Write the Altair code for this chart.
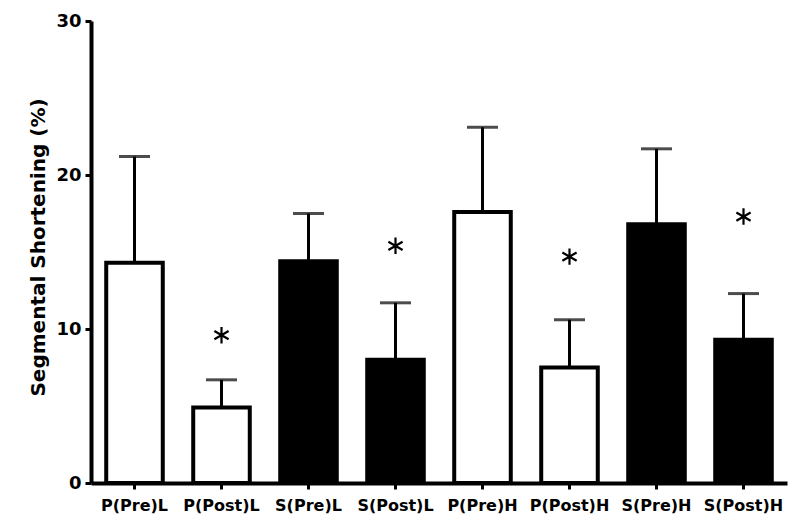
import altair as alt
import pandas as pd

groups = ["P(Pre)L", "P(Post)L", "S(Pre)L", "S(Post)L", "P(Pre)H", "P(Post)H", "S(Pre)H", "S(Post)H"]
means = [14.3, 4.9, 14.4, 8.0, 17.6, 7.5, 16.8, 9.3]
upper = [21.2, 6.7, 17.5, 11.7, 23.1, 10.6, 21.7, 12.3]
fills = ["white", "white", "black", "black", "white", "white", "black", "black"]
star_groups = ["P(Post)L", "S(Post)L", "P(Post)H", "S(Post)H"]
star_y = [9.6, 15.4, 14.7, 17.3]

df = pd.DataFrame({"group": groups, "mean": means, "upper": upper, "fill": fills})
stars = pd.DataFrame({"group": star_groups, "y": star_y})

FONT = "DejaVu Sans"

x_enc = alt.X(
    "group:N",
    sort=groups,
    scale=alt.Scale(paddingInner=0.35, paddingOuter=0.175),
    axis=alt.Axis(
        title=None,
        labelAngle=0,
        labelFont=FONT,
        labelFontWeight="bold",
        labelFontSize=16,
        labelColor="black",
        labelPadding=8,
        tickSize=6,
        tickWidth=3,
        tickColor="black",
        domainColor="black",
        domainWidth=4,
    ),
)

y_scale = alt.Scale(domain=[0, 30], nice=False)
y_axis = alt.Axis(
    title="Segmental Shortening (%)",
    values=[0, 10, 20, 30],
    grid=False,
    labelFont=FONT,
    labelFontWeight="bold",
    labelFontSize=18,
    labelColor="black",
    labelPadding=4,
    tickSize=6,
    tickWidth=3,
    tickColor="black",
    domainColor="black",
    domainWidth=4,
    titleFont=FONT,
    titleFontWeight="bold",
    titleFontSize=20,
    titleColor="black",
    titleX=-43,
    titleY=226,
)

base = alt.Chart(df)

err = base.mark_rule(color="black", strokeWidth=3).encode(
    x=x_enc,
    y=alt.Y("mean:Q", scale=y_scale, axis=y_axis),
    y2="upper:Q",
)

cap = base.mark_tick(color="black", size=31, thickness=3).encode(
    x=x_enc,
    y=alt.Y("upper:Q", scale=y_scale),
)

bars = base.mark_bar(stroke="black", strokeWidth=4).encode(
    x=x_enc,
    y=alt.Y("mean:Q", scale=y_scale),
    fill=alt.Fill("fill:N", scale=None),
)

star_mark = alt.Chart(stars).mark_point(
    shape="M0,-1L0,1M-0.866,-0.5L0.866,0.5M-0.866,0.5L0.866,-0.5",
    stroke="black",
    strokeWidth=2.2,
    size=270,
    filled=False,
    opacity=1,
).encode(
    x=alt.X("group:N", sort=groups),
    y=alt.Y("y:Q", scale=y_scale),
)

chart = (
    alt.layer(err, cap, bars, star_mark)
    .properties(
        width=696,
        height=462,
        autosize=alt.AutoSizeParams(type="none"),
        padding={"left": 83, "top": 13, "right": 5, "bottom": 40},
        background="white",
    )
    .configure_view(stroke=None)
)

chart.save("out.html", embed_options={"renderer": "svg", "actions": False})
